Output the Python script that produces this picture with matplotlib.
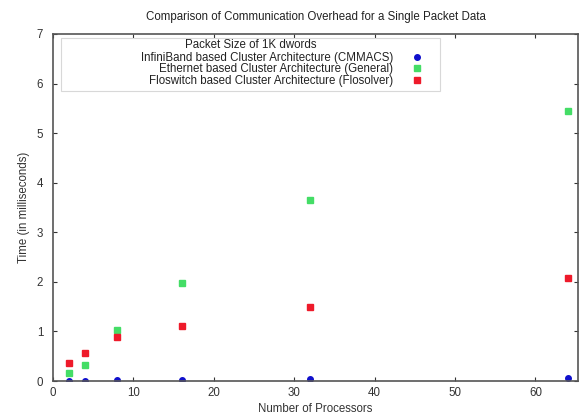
import matplotlib
matplotlib.use("Agg")
import matplotlib.pyplot as plt
from matplotlib.patches import Rectangle

processors = [2, 4, 8, 16, 32, 64]
infiniband = [0.01, 0.01, 0.02, 0.03, 0.04, 0.07]
ethernet = [0.17, 0.33, 1.02, 1.98, 3.65, 5.45]
floswitch = [0.36, 0.56, 0.88, 1.10, 1.50, 2.08]

labels = ["InfiniBand based Cluster Architecture (CMMACS)",
          "Ethernet based Cluster Architecture (General)",
          "Floswitch based Cluster Architecture (Flosolver)"]
legend_title = "Packet Size of 1K dwords"
title = "Comparison of Communication Overhead for a Single Packet Data"
xticks = [0, 10, 20, 30, 40, 50, 60]
yticks = [0, 1, 2, 3, 4, 5, 6, 7]

plt.rcParams['font.family'] = ['Liberation Sans', 'DejaVu Sans']
FS = 8.3

W, H = 579, 415
L, R, T, B = 53, 578, 34, 381
fig = plt.figure(figsize=(W/100, H/100), dpi=100)
ax = fig.add_axes([L/W, 1-B/H, (R-L)/W, (B-T)/H])

def ax_x(px):
    return (px - L) / (R - L)

def ax_y(py):
    return (B - py) / (B - T)

ax.plot(processors, infiniband, linestyle='none', marker='o', ms=4, color='#1010cc', label=labels[0])
ax.plot(processors, ethernet, linestyle='none', marker='s', ms=5, color='#44dd66', label=labels[1])
ax.plot(processors, floswitch, linestyle='none', marker='s', ms=5, color='#ee1a2a', label=labels[2])

ax.set_xlim(0, 65.3)
ax.set_ylim(0, 7)
ax.set_xticks(xticks)
ax.set_yticks(yticks)
ax.tick_params(direction='in', top=True, right=True, length=3, labelsize=FS,
               colors='#333333', labelcolor='#333333')
ax.tick_params(axis='x', pad=4)
ax.tick_params(axis='y', pad=7)
for s in ax.spines.values():
    s.set_color('#555555')
    s.set_linewidth(1.2)

fig.text((L + R) / 2 / W, 1 - 17 / H, title, fontsize=FS, color='#222222',
         ha='center', va='center')
ax.set_xlabel("Number of Processors", fontsize=FS, color='#333333', labelpad=3)
ax.set_ylabel("Time (in milliseconds)", fontsize=FS, color='#333333', labelpad=5)

# legend frame and title
ax.add_patch(Rectangle((ax_x(61), ax_y(91)), ax_x(440) - ax_x(61), ax_y(38) - ax_y(91),
                       transform=ax.transAxes, facecolor='white', edgecolor='#d8d8d8',
                       linewidth=0.8, zorder=4))
ax.text(ax_x(251), ax_y(45), legend_title, transform=ax.transAxes, fontsize=FS,
        color='#222222', ha='center', va='center', zorder=6)

leg = ax.legend(loc='upper right', markerfirst=False, frameon=False,
                fontsize=FS, labelspacing=-0.05,
                handlelength=1.0, handletextpad=1.6, borderpad=0, borderaxespad=0,
                bbox_to_anchor=(ax_x(423), ax_y(52)))
leg.set_zorder(6)
for t in leg.get_texts():
    t.set_color('#222222')

fig.savefig("out.png", dpi=100)
